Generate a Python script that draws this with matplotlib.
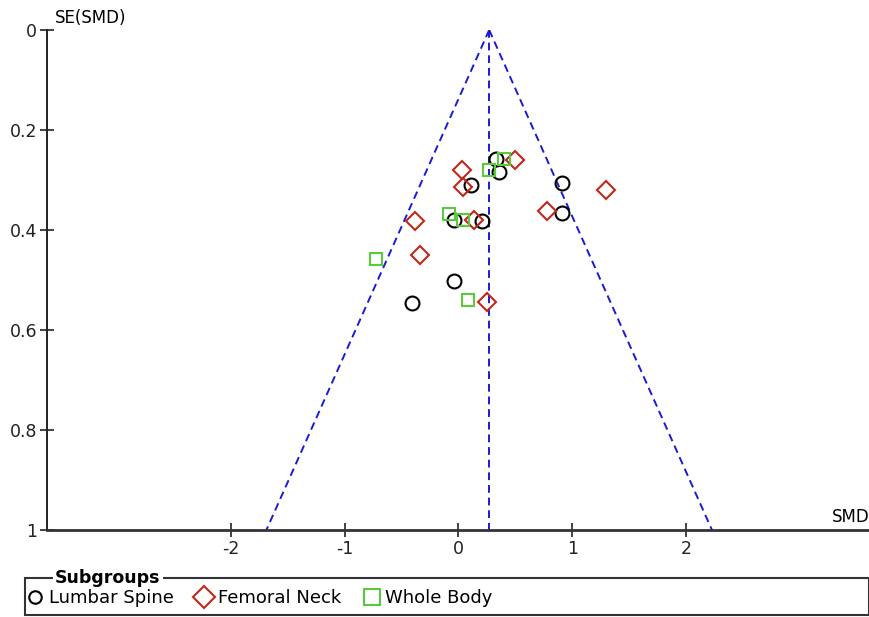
import numpy as np
import matplotlib.pyplot as plt
from matplotlib.lines import Line2D
from matplotlib.patches import Rectangle

plt.rcParams['axes.unicode_minus'] = False

# SMD and SE(SMD)
lumbar_smd = [0.33, 0.36, 0.11, 0.91, 0.91, -0.04, 0.21, -0.04, -0.41]
lumbar_se = [0.257, 0.283, 0.309, 0.305, 0.365, 0.379, 0.381, 0.501, 0.545]

femoral_smd = [0.50, 0.03, 0.04, 1.30, 0.78, 0.14, -0.38, -0.34, 0.25]
femoral_se = [0.259, 0.279, 0.314, 0.320, 0.362, 0.379, 0.381, 0.450, 0.543]

whole_smd = [0.40, 0.27, -0.08, 0.04, -0.73, 0.08]
whole_se = [0.257, 0.279, 0.367, 0.379, 0.457, 0.540]

pooled = 0.27
se_max = 1.0

black = 'black'
red = '#c0281c'
green = '#5cc83c'
blue = '#1a1ad6'

W, H = 870, 617
fig = plt.figure(figsize=(W / 100, H / 100), dpi=100)
ax = fig.add_axes([47 / W, 1 - 530 / H, (W - 47) / W, 500 / H])

# funnel
for x_end in [pooled, pooled - 1.96 * se_max, pooled + 1.96 * se_max]:
    ax.plot([pooled, x_end], [0, se_max], color=blue, lw=1.4, dashes=(4, 2.5))

ax.plot(lumbar_smd, lumbar_se, 'o', ms=10, mfc='none', mec=black, mew=1.5, ls='none', clip_on=False)
ax.plot(femoral_smd, femoral_se, 'D', ms=9.5, mfc='none', mec=red, mew=1.5, ls='none', clip_on=False)
ax.plot(whole_smd, whole_se, 's', ms=9, mfc='none', mec=green, mew=1.5, ls='none', clip_on=False)

ax.set_xlim(-3.62, 3.62)
ax.set_ylim(1, 0)
ax.set_xticks([-2, -1, 0, 1, 2])
ax.set_yticks([0, 0.2, 0.4, 0.6, 0.8, 1])
ax.set_yticklabels(['0', '0.2', '0.4', '0.6', '0.8', '1'])
ax.tick_params(direction='inout', length=10, width=1.2, labelsize=12.5, colors='#222222', pad=2)
for s in ['top', 'right']:
    ax.spines[s].set_visible(False)
ax.spines['left'].set_linewidth(1.4)
ax.spines['bottom'].set_linewidth(2.0)
ax.spines['left'].set_color('#222222')
ax.spines['bottom'].set_color('#333333')

ax.annotate('SE(SMD)', xy=(0, 1), xycoords='axes fraction', xytext=(6, 2),
            textcoords='offset points', ha='left', va='bottom', fontsize=12)
ax.annotate('SMD', xy=(1, 0), xycoords='axes fraction', xytext=(0, 3),
            textcoords='offset points', ha='right', va='bottom', fontsize=12)

# legend box with title sitting on the top border
top = 1 - 578 / H
bottom = 1 - 615 / H
fig.add_artist(Rectangle((25 / W, bottom), (869 - 25) / W, top - bottom,
                         transform=fig.transFigure, fill=False, lw=1.5, ec='#333333'))
fig.text(55 / W, top, 'Subgroups', weight='bold', fontsize=12.5, ha='left', va='center',
         bbox=dict(fc='white', ec='none', pad=1.5))
handles = [
    Line2D([], [], marker='o', ms=9, mfc='none', mec=black, mew=1.5, ls='none', label='Lumbar Spine'),
    Line2D([], [], marker='D', ms=11, mfc='none', mec=red, mew=1.5, ls='none', label='Femoral Neck'),
    Line2D([], [], marker='s', ms=11, mfc='none', mec=green, mew=1.5, ls='none', label='Whole Body'),
]
fig.legend(handles=handles, loc='center left', bbox_to_anchor=(28 / W, 1 - 598 / H),
           ncol=3, frameon=False, fontsize=13, handlelength=0.8, handletextpad=0.35,
           columnspacing=1.3, borderpad=0, borderaxespad=0)

fig.savefig('out.png', dpi=100)
